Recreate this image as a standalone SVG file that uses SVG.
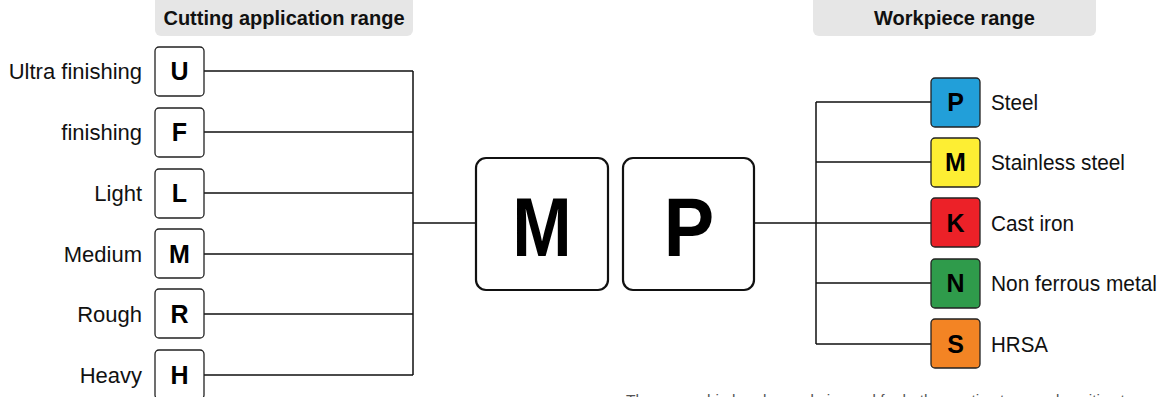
<svg xmlns="http://www.w3.org/2000/svg" width="1162" height="397" viewBox="0 0 1162 397">
  <style>
    .hdr { fill: #e6e6e6; }
    .hdrt { font-family: "Liberation Sans", Arial, sans-serif; font-weight: bold; font-size: 20px; fill: #111; text-anchor: middle; }
    .box { fill: #fff; stroke: #222; stroke-width: 1.3; }
    .cbox { stroke: #222; stroke-width: 1.3; }
    .big { fill: #fff; stroke: #111; stroke-width: 2.2; }
    .code { font-family: "Liberation Sans", Arial, sans-serif; font-weight: bold; font-size: 25px; fill: #000; text-anchor: middle; }
    .bigt { font-family: "Liberation Sans", Arial, sans-serif; font-weight: bold; font-size: 84px; fill: #000; text-anchor: middle; }
    .lbl { font-family: "Liberation Sans", Arial, sans-serif; font-size: 22px; fill: #111; }
    .lblL { text-anchor: end; }
    .note { font-family: "Liberation Sans", Arial, sans-serif; font-size: 15.5px; fill: #555; }
    .wire { fill: none; stroke: #111; stroke-width: 1.5; }
  </style>

  <!-- section headers -->
  <g id="hdr-cutting">
    <rect class="hdr" x="155" y="-6" width="258" height="42" rx="6"/>
    <text class="hdrt" x="284" y="25">Cutting application range</text>
  </g>
  <g id="hdr-workpiece">
    <rect class="hdr" x="813" y="-6" width="283" height="42" rx="6"/>
    <text class="hdrt" x="954.5" y="25">Workpiece range</text>
  </g>

  <!-- connectors -->
  <g id="connectors">
    <path class="wire" d="M204 71H413M204 132H413M204 193H413M204 254H413M204 314H413M204 375H413M413 71V375M413 223H476"/>
    <path class="wire" d="M754 223H816M816 102V344M816 102H931M816 162H931M816 223H931M816 283H931M816 344H931"/>
  </g>

  <!-- cutting application codes -->
  <g id="node-U">
    <rect class="box" x="155" y="47" width="49" height="49" rx="4"/>
    <text class="code" x="179.5" y="80">U</text>
    <text class="lbl lblL" x="142" y="79">Ultra finishing</text>
  </g>
  <g id="node-F">
    <rect class="box" x="155" y="108" width="49" height="49" rx="4"/>
    <text class="code" x="179.5" y="141">F</text>
    <text class="lbl lblL" x="142" y="140">finishing</text>
  </g>
  <g id="node-L">
    <rect class="box" x="155" y="169" width="49" height="49" rx="4"/>
    <text class="code" x="179.5" y="202">L</text>
    <text class="lbl lblL" x="142" y="201">Light</text>
  </g>
  <g id="node-M">
    <rect class="box" x="155" y="229" width="49" height="49" rx="4"/>
    <text class="code" x="179.5" y="263">M</text>
    <text class="lbl lblL" x="142" y="262">Medium</text>
  </g>
  <g id="node-R">
    <rect class="box" x="155" y="289" width="49" height="49" rx="4"/>
    <text class="code" x="179.5" y="323">R</text>
    <text class="lbl lblL" x="142" y="322">Rough</text>
  </g>
  <g id="node-H">
    <rect class="box" x="155" y="350" width="49" height="49" rx="4"/>
    <text class="code" x="179.5" y="384">H</text>
    <text class="lbl lblL" x="142" y="383">Heavy</text>
  </g>

  <!-- chip breaker code, letters drawn slightly condensed -->
  <g id="node-big-M">
    <rect class="big" x="476" y="158" width="132" height="132" rx="10"/>
    <text class="bigt" transform="translate(542 0) scale(0.85 1)" x="0" y="256">M</text>
  </g>
  <g id="node-big-P">
    <rect class="big" x="623" y="158" width="131" height="132" rx="10"/>
    <text class="bigt" transform="translate(689 0) scale(0.9 1)" x="0" y="256">P</text>
  </g>

  <!-- workpiece materials -->
  <g id="node-P">
    <rect class="cbox" x="931" y="78" width="49" height="49" rx="4" fill="#229fd9"/>
    <text class="code" x="955.5" y="111">P</text>
    <text class="lbl" x="991" y="110" textLength="47" lengthAdjust="spacingAndGlyphs">Steel</text>
  </g>
  <g id="node-Mw">
    <rect class="cbox" x="931" y="138" width="49" height="49" rx="4" fill="#fdee33"/>
    <text class="code" x="955.5" y="171">M</text>
    <text class="lbl" x="991" y="170" textLength="134" lengthAdjust="spacingAndGlyphs">Stainless steel</text>
  </g>
  <g id="node-K">
    <rect class="cbox" x="931" y="198" width="49" height="49" rx="4" fill="#ec2128"/>
    <text class="code" x="955.5" y="232">K</text>
    <text class="lbl" x="991" y="231" textLength="83" lengthAdjust="spacingAndGlyphs">Cast iron</text>
  </g>
  <g id="node-N">
    <rect class="cbox" x="931" y="259" width="49" height="49" rx="4" fill="#2f9b4b"/>
    <text class="code" x="955.5" y="292">N</text>
    <text class="lbl" x="991" y="291" textLength="166" lengthAdjust="spacingAndGlyphs">Non ferrous metal</text>
  </g>
  <g id="node-S">
    <rect class="cbox" x="931" y="319" width="49" height="49" rx="4" fill="#f38424"/>
    <text class="code" x="955.5" y="353">S</text>
    <text class="lbl" x="991" y="352" textLength="57" lengthAdjust="spacingAndGlyphs">HRSA</text>
  </g>

  <text class="note" x="626" y="405">The same chip breaker code is used for both negative type and positive type</text>
</svg>
